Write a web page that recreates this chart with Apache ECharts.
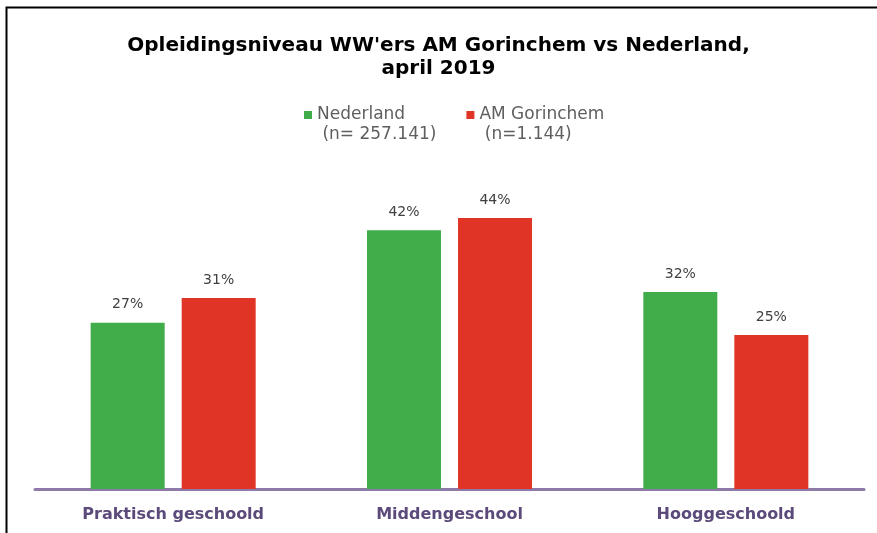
<!DOCTYPE html>
<html>
<head>
<meta charset="utf-8">
<script src="https://cdn.jsdelivr.net/npm/echarts@6/dist/echarts.min.js"></script>
<style>
    html, body { margin: 0; padding: 0; background: #fff; }
    #chart { width: 877px; height: 533px; }
</style>
</head>
<body>
<div id="chart"></div>
<script>
    const categories = ['Praktisch geschoold', 'Middengeschool', 'Hooggeschoold'];
    const seriesNames = ['Nederland', 'AM Gorinchem'];
    const legendNotes = ['(n= 257.141)', '(n=1.144)'];
    const nederland = [27, 42, 32];
    const gorinchem = [31, 44, 25];

    const FONT = 'DejaVu Sans';

    const labelOption = {
        show: true,
        position: 'top',
        distance: 11,
        formatter: '{c}%',
        color: '#404040',
        fontFamily: FONT,
        fontSize: 14
    };

    const chart = echarts.init(document.getElementById('chart'));
    chart.setOption({
        backgroundColor: '#fff',
        animation: false,
        title: {
            text: 'Opleidingsniveau WW\'ers AM Gorinchem vs Nederland,\napril 2019',
            left: 'center',
            top: 29,
            textStyle: {
                fontFamily: FONT,
                fontWeight: 'bold',
                fontSize: 20,
                lineHeight: 23,
                color: '#000'
            }
        },
        legend: {
            top: 100,
            left: 299,
            itemWidth: 8,
            itemHeight: 28,
            itemGap: 30,
            // square on the first text line, transparent spacer below it
            icon: 'path://M0,0H8V8H0Z M0,28H0.01',
            formatter(name) {
                return name + '\n ' + legendNotes[seriesNames.indexOf(name)];
            },
            textStyle: {
                fontFamily: FONT,
                fontSize: 17,
                lineHeight: 20,
                color: '#5f5f5f'
            }
        },
        grid: {
            left: 35,
            right: 13,
            top: 181,
            bottom: 44
        },
        xAxis: {
            type: 'category',
            data: categories,
            axisLine: {
                lineStyle: { color: '#8e7aa8', width: 3 }
            },
            axisTick: { show: false },
            axisLabel: {
                margin: 18,
                color: '#5b4a7a',
                fontFamily: FONT,
                fontWeight: 'bold',
                fontSize: 16
            }
        },
        yAxis: {
            type: 'value',
            min: 0,
            max: 50,
            show: false,
            splitLine: { show: false }
        },
        series: [{
            name: seriesNames[0],
            type: 'bar',
            barWidth: 74,
            barGap: '23%',
            data: nederland,
            itemStyle: { color: '#40ad4a' },
            label: labelOption
        }, {
            name: seriesNames[1],
            type: 'bar',
            barWidth: 74,
            data: gorinchem,
            itemStyle: { color: '#e03427' },
            label: labelOption
        }],
        graphic: [{
            type: 'polyline',
            shape: { points: [[6.5, 533], [6.5, 7.5], [877, 7.5]] },
            style: { stroke: '#000', lineWidth: 2, fill: null },
            silent: true
        }]
    });
</script>
</body>
</html>
